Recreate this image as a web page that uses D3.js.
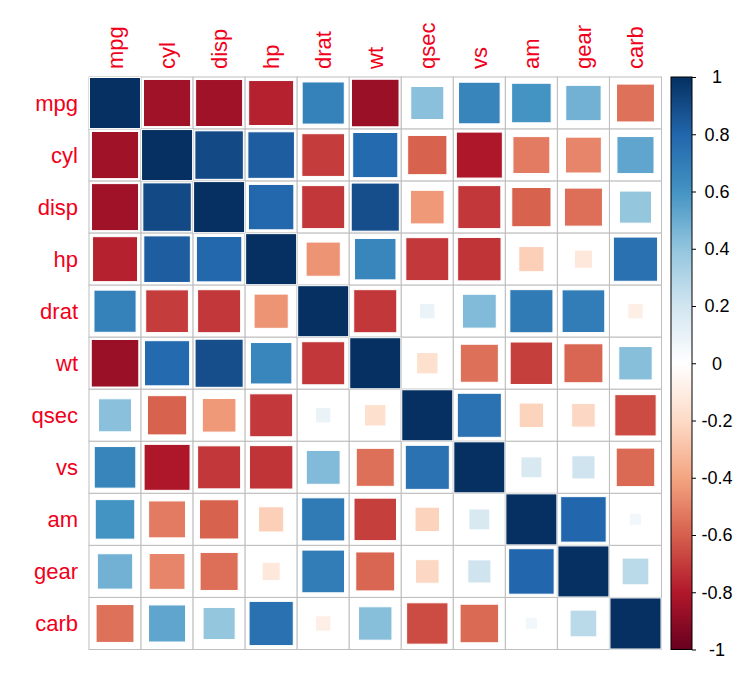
<!DOCTYPE html>
<html><head><meta charset="utf-8">
<script src="https://cdn.jsdelivr.net/npm/d3@7"></script>
<style>body{margin:0;background:#fff;}svg{display:block;font-family:"Liberation Sans",Arial,sans-serif;}</style>
</head><body>
<svg id="chart" width="746" height="673"></svg>
<script>
const variables = ["mpg","cyl","disp","hp","drat","wt","qsec","vs","am","gear","carb"];
const corrValues = [
 [ 1.000,-0.852,-0.848,-0.776, 0.681,-0.868, 0.419, 0.664, 0.600, 0.480,-0.551],
 [-0.852, 1.000, 0.902, 0.832,-0.700, 0.782,-0.591,-0.811,-0.523,-0.493, 0.527],
 [-0.848, 0.902, 1.000, 0.791,-0.710, 0.888,-0.434,-0.710,-0.591,-0.556, 0.395],
 [-0.776, 0.832, 0.791, 1.000,-0.449, 0.659,-0.708,-0.723,-0.243,-0.126, 0.750],
 [ 0.681,-0.700,-0.710,-0.449, 1.000,-0.712, 0.091, 0.440, 0.713, 0.700,-0.091],
 [-0.868, 0.782, 0.888, 0.659,-0.712, 1.000,-0.175,-0.555,-0.692,-0.583, 0.428],
 [ 0.419,-0.591,-0.434,-0.708, 0.091,-0.175, 1.000, 0.745,-0.230,-0.213,-0.656],
 [ 0.664,-0.811,-0.710,-0.723, 0.440,-0.555, 0.745, 1.000, 0.168, 0.206,-0.570],
 [ 0.600,-0.523,-0.591,-0.243, 0.713,-0.692,-0.230, 0.168, 1.000, 0.794, 0.058],
 [ 0.480,-0.493,-0.556,-0.126, 0.700,-0.583,-0.213, 0.206, 0.794, 1.000, 0.274],
 [-0.551, 0.527, 0.395, 0.750,-0.091, 0.428,-0.656,-0.570, 0.058, 0.274, 1.000]
];
const legendTicks = [-1,-0.8,-0.6,-0.4,-0.2,0,0.2,0.4,0.6,0.8,1];
const paletteColors = ["#67001F","#B2182B","#D6604D","#F4A582","#FDDBC7","#FFFFFF","#D1E5F0","#92C5DE","#4393C3","#2166AC","#053061"];

const svg = d3.select("#chart");
const mLeft = 89, mTop = 77, size = 572.5;
const x = d3.scaleBand().domain(variables).range([mLeft, mLeft+size]);
const y = d3.scaleBand().domain(variables).range([mTop, mTop+size]);
const color = d3.scaleLinear().domain(d3.range(11).map(i => -1 + i*0.2)).range(paletteColors).interpolate(d3.interpolateRgb);
const bw = x.bandwidth();

const cells = [];
variables.forEach((r, i) => variables.forEach((c, j) => cells.push({r, c, v: corrValues[i][j]})));

const g = svg.append("g");
g.selectAll("rect.cell").data(cells).join("rect")
  .attr("x", d => x(d.c)).attr("y", d => y(d.r))
  .attr("width", bw).attr("height", bw)
  .attr("fill", "white").attr("stroke", "#BEBEBE").attr("stroke-width", 1);

g.selectAll("rect.sq").data(cells).join("rect")
  .each(function(d){
    const s = Math.sqrt(Math.abs(d.v)) * (bw - 1);
    d3.select(this)
      .attr("x", x(d.c) + bw/2 - s/2).attr("y", y(d.r) + bw/2 - s/2)
      .attr("width", s).attr("height", s)
      .attr("fill", color(d.v))
      .attr("stroke", "white").attr("stroke-width", 1);
  });

svg.append("g").selectAll("text").data(variables).join("text")
  .attr("x", mLeft - 11).attr("y", d => y(d) + bw/2)
  .attr("text-anchor", "end").attr("dominant-baseline", "central")
  .attr("font-size", 22).attr("fill", "#F0001A").text(d => d);

svg.append("g").selectAll("text").data(variables).join("text")
  .attr("transform", d => `translate(${x(d)+bw/2},${mTop-8}) rotate(-90)`)
  .attr("text-anchor", "start").attr("dominant-baseline", "central")
  .attr("font-size", 22).attr("fill", "#F0001A").text(d => d);

const lx = 671, lw = 21;
const ly = d3.scaleLinear().domain([-1, 1]).range([mTop + size, mTop]);
const defs = svg.append("defs");
const grad = defs.append("linearGradient").attr("id", "lg").attr("x1", 0).attr("y1", 1).attr("x2", 0).attr("y2", 0);
d3.range(0, 1.0001, 0.05).forEach(t => grad.append("stop").attr("offset", t).attr("stop-color", color(-1 + 2*t)));
svg.append("rect").attr("x", lx).attr("y", mTop).attr("width", lw).attr("height", size)
  .attr("fill", "url(#lg)").attr("stroke", "black").attr("stroke-width", 1);
const axis = d3.axisRight(ly).tickValues(legendTicks).tickSize(4).tickPadding(12).tickFormat(d => String(+d.toFixed(1)));
const ag = svg.append("g").attr("transform", `translate(${lx+lw},0)`).call(axis);
ag.select(".domain").remove();
ag.selectAll("text").attr("font-size", 18).attr("fill", "black").attr("text-anchor", "middle").attr("x", 25).attr("font-family", "Liberation Sans, Arial, sans-serif");
ag.selectAll("line").attr("stroke", "black");
</script>
</body></html>
